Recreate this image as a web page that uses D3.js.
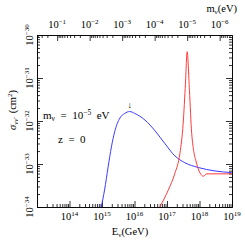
<!DOCTYPE html>
<html>
<head>
<meta charset="utf-8">
<script src="https://cdn.jsdelivr.net/npm/d3@7"></script>
<style>
  body { margin: 0; background: #fff; }
  text { font-family: "Liberation Serif", "DejaVu Serif", serif; fill: #000; white-space: pre; }
</style>
</head>
<body>
<div id="chart"></div>
<script>
// values (E in GeV, sigma in cm^2)
const blueEnergy = [9.5e14, 1.2e15, 1.55e15, 1.95e15, 2.45e15, 3.55e15, 5.0e15, 7.1e15, 1.02e16, 2.1e16, 4.3e16, 8.7e16, 1.74e17, 3.55e17, 9.1e17, 3.0e18, 9.8e18];
const blueSigma  = [1e-34, 2.5e-34, 8.7e-34, 2.5e-33, 5.6e-33, 1.17e-32, 1.5e-32, 1.66e-32, 1.5e-32, 1.05e-32, 5.9e-33, 2.95e-33, 1.55e-33, 1.07e-33, 8.3e-34, 6.9e-34, 6.3e-34];
const redEnergy  = [6.0e16, 1.1e17, 1.74e17, 2.5e17, 3.15e17, 3.7e17, 4.17e17, 4.9e17, 5.75e17, 8.1e17, 1.32e18, 1.66e18, 9.8e18];
const redSigma   = [1e-34, 2.5e-34, 6.0e-34, 1.78e-33, 8.9e-33, 7.6e-32, 4.1e-31, 5.2e-32, 5.2e-33, 1.05e-33, 5.2e-34, 5.9e-34, 5.9e-34];

const energyTicks = [14, 15, 16, 17, 18, 19];     // 10^n GeV
const massTicks   = [-1, -2, -3, -4, -5, -6];     // 10^n eV
const sigmaTicks  = [-30, -31, -32, -33, -34];    // 10^n cm^2
const resonance = 4.17e12;                        // E_res (GeV) * m_nu (eV)
const blueArrowEnergy = 7.1e15;

// set the dimensions and margins of the graph
const margin = {top: 35, right: 13, bottom: 38, left: 37},
    width = 245 - margin.left - margin.right,
    height = 245 - margin.top - margin.bottom;

const svg = d3.select("#chart")
  .append("svg")
  .attr("width", 245)
  .attr("height", 245)
  .append("g")
  .attr("transform", `translate(${margin.left}, ${margin.top})`);

const x = d3.scaleLog().domain([1e13, 1e19]).range([0, width]);
const y = d3.scaleLog().domain([1e-34, 1e-30]).range([height, 0]);
const m = d3.scaleLog().domain([resonance / 1e13, resonance / 1e19]).range([0, width]);

function minorTicks(lo, hi) {
  let out = [];
  for (let k = Math.floor(Math.log10(lo)); k <= Math.ceil(Math.log10(hi)); k++) {
    for (let j = 2; j <= 9; j++) {
      let v = j * Math.pow(10, k);
      if (v >= lo && v <= hi) out.push(v);
    }
  }
  return out;
}

// ticks, all pointing inwards
function addAxis(axisFn, scale, major, minor, transform) {
  svg.append("g").attr("transform", transform)
    .call(axisFn(scale).tickValues(minor).tickSizeInner(-3).tickSizeOuter(0).tickFormat(""));
  svg.append("g").attr("transform", transform)
    .call(axisFn(scale).tickValues(major).tickSizeInner(-6).tickSizeOuter(0).tickFormat(""));
}

addAxis(d3.axisBottom, x, energyTicks.map(n => Math.pow(10, n)), minorTicks(1e13, 1e19), `translate(0, ${height})`);
addAxis(d3.axisLeft, y, sigmaTicks.map(n => Math.pow(10, n)), minorTicks(1e-34, 1e-30), "translate(0,0)");
addAxis(d3.axisRight, y, sigmaTicks.map(n => Math.pow(10, n)), minorTicks(1e-34, 1e-30), `translate(${width},0)`);
addAxis(d3.axisTop, m, massTicks.map(n => Math.pow(10, n)), minorTicks(resonance / 1e19, resonance / 1e13), "translate(0,0)");

svg.selectAll(".domain, .tick line").attr("stroke", "#000").attr("stroke-width", 0.8);

// power-of-ten label helper
function powLabel(sel, exp, size, expSize) {
  sel.append("tspan").attr("font-size", size).text("10");
  sel.append("tspan").attr("font-size", expSize).attr("dy", -4).text(exp < 0 ? "\u2212" + (-exp) : exp);
}

energyTicks.forEach(n => {
  let t = svg.append("text").attr("x", x(Math.pow(10, n))).attr("y", height + 13)
    .attr("text-anchor", "middle");
  powLabel(t, n, 10.5, 7);
});

massTicks.forEach(n => {
  let t = svg.append("text").attr("x", m(Math.pow(10, n))).attr("y", -7)
    .attr("text-anchor", "middle");
  powLabel(t, n, 10.5, 7);
});

sigmaTicks.forEach(n => {
  let t = svg.append("text")
    .attr("transform", `translate(-4, ${y(Math.pow(10, n))}) rotate(-90)`)
    .attr("text-anchor", "middle");
  powLabel(t, n, 10.5, 7);
});

// axis titles
let xt = svg.append("text").attr("x", 93).attr("y", height + 28).attr("text-anchor", "middle").attr("font-size", 10.5);
xt.append("tspan").text("E");
xt.append("tspan").attr("font-size", 7).attr("dy", 2).text("\u03bd");
xt.append("tspan").attr("dy", -2).text("(GeV)");

let mt = svg.append("text").attr("x", width + 5).attr("y", -23).attr("text-anchor", "end").attr("font-size", 10.5);
mt.append("tspan").text("m");
mt.append("tspan").attr("font-size", 7).attr("dy", 2).text("\u03bd");
mt.append("tspan").attr("dy", -2).text("(eV)");

let yt = svg.append("text")
  .attr("transform", `translate(-21, ${height / 2 - 11}) rotate(-90)`)
  .attr("text-anchor", "middle").attr("font-size", 10.5);
yt.append("tspan").attr("font-style", "italic").text("\u03c3");
yt.append("tspan").attr("font-size", 7).attr("dy", 2).attr("font-style", "italic").text("\u03bd\u03bd\u0304");
yt.append("tspan").attr("dy", -2).text("  (cm");
yt.append("tspan").attr("font-size", 7).attr("dy", -4).text("2");
yt.append("tspan").attr("dy", 4).text(")");

// annotations
let a1 = svg.append("text").attr("x", 6).attr("y", 84).attr("font-size", 11);
a1.append("tspan").text("m");
a1.append("tspan").attr("font-size", 7.5).attr("dy", 2).text("\u03bd");
a1.append("tspan").attr("dy", -2).text("  =  10");
a1.append("tspan").attr("font-size", 7.5).attr("dy", -4).text("\u22125");
a1.append("tspan").attr("dy", 4).text("  eV");

svg.append("text").attr("x", 21).attr("y", 108).attr("font-size", 11).text("z  =  0");

svg.append("text").attr("x", x(blueArrowEnergy))
  .attr("y", 73).attr("font-size", 9).attr("text-anchor", "middle").text("\u2193");

// curves
const line = d3.line()
  .x(d => x(d[0]))
  .y(d => y(d[1]))
  .curve(d3.curveMonotoneX);

svg.append("path")
  .datum(blueEnergy.map((e, i) => [e, blueSigma[i]]))
  .attr("fill", "none")
  .attr("stroke", "#3a3aff")
  .attr("stroke-width", 1)
  .attr("d", line);

svg.append("path")
  .datum(redEnergy.map((e, i) => [e, redSigma[i]]))
  .attr("fill", "none")
  .attr("stroke", "#ff3a3a")
  .attr("stroke-width", 1)
  .attr("d", line);
</script>
</body>
</html>
